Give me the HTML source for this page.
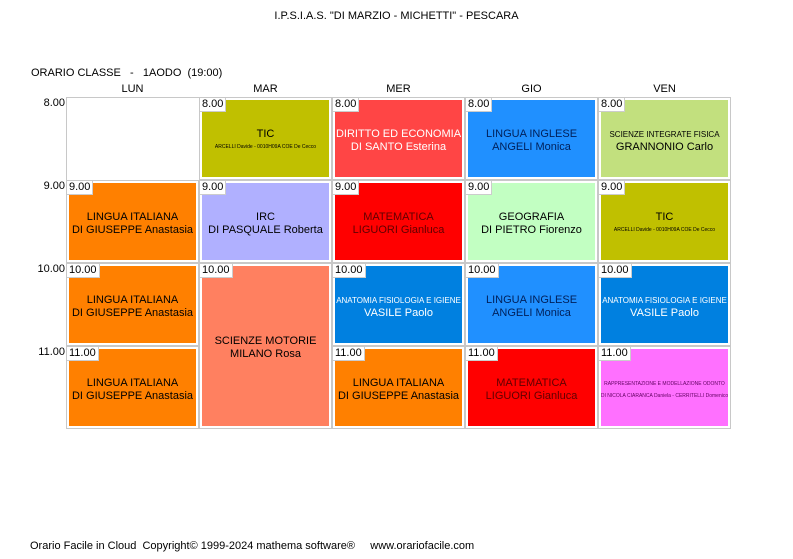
<!DOCTYPE html>
<html><head><meta charset="utf-8">
<style>
body{margin:0;width:793px;height:559px;background:#fff;font-family:"Liberation Sans",sans-serif;position:relative;overflow:hidden;color:#000}
.abs{position:absolute}
.t{font-size:11px;white-space:nowrap}
.cell{position:absolute;box-sizing:border-box;border:1px solid #c8c8c8;background:#fff}
.fill{position:absolute;left:2px;top:2px;right:2px;bottom:2px;display:flex;flex-direction:column;justify-content:center;align-items:center;text-align:center;font-size:11px;line-height:13px;padding-top:4px;box-sizing:border-box;white-space:nowrap;overflow:hidden}
.tm{position:absolute;left:0;top:0;background:#fff;font-size:11px;line-height:13px;padding:0 2px;border-right:1px solid #ccc;border-bottom:1px solid #ccc}
.sm{font-size:5px;line-height:12px}
.md{font-size:8px;line-height:13px}
</style></head><body>
<div class="abs t" style="left:0;width:793px;top:10px;text-align:center">I.P.S.I.A.S. "DI MARZIO - MICHETTI" - PESCARA</div>
<div class="abs t" style="left:31px;top:67px">ORARIO CLASSE &nbsp; - &nbsp; 1AODO &nbsp;(19:00)</div>
<div id="grid"></div>
<div class="abs t" style="left:30px;top:540px">Orario Facile in Cloud &nbsp;Copyright© 1999-2024 mathema software® &nbsp; &nbsp; www.orariofacile.com</div>
<script>
const days=["LUN","MAR","MER","GIO","VEN"];
const hours=["8.00","9.00","10.00","11.00"];
const lessons=[
 [1,0,1,"TIC","ARCELLI Davide - 0010H09A  COE De Cecco","#c0c000","#000","","sm"],
 [2,0,1,"DIRITTO ED ECONOMIA","DI SANTO Esterina","#ff4545","#fff","",""],
 [3,0,1,"LINGUA INGLESE","ANGELI Monica","#2090ff","#00205a","",""],
 [4,0,1,"SCIENZE INTEGRATE FISICA","GRANNONIO Carlo","#c2e07e","#000","md",""],
 [0,1,1,"LINGUA ITALIANA","DI GIUSEPPE Anastasia","#ff8000","#000","",""],
 [1,1,1,"IRC","DI PASQUALE Roberta","#b0b0ff","#000","",""],
 [2,1,1,"MATEMATICA","LIGUORI Gianluca","#ff0000","#600000","",""],
 [3,1,1,"GEOGRAFIA","DI PIETRO Fiorenzo","#c2ffc2","#000","",""],
 [4,1,1,"TIC","ARCELLI Davide - 0010H09A  COE De Cecco","#c0c000","#000","","sm"],
 [0,2,1,"LINGUA ITALIANA","DI GIUSEPPE Anastasia","#ff8000","#000","",""],
 [1,2,2,"SCIENZE MOTORIE","MILANO Rosa","#ff8060","#000","",""],
 [2,2,1,"ANATOMIA FISIOLOGIA E IGIENE","VASILE Paolo","#0080e0","#fff","md",""],
 [3,2,1,"LINGUA INGLESE","ANGELI Monica","#2090ff","#00205a","",""],
 [4,2,1,"ANATOMIA FISIOLOGIA E IGIENE","VASILE Paolo","#0080e0","#fff","md",""],
 [0,3,1,"LINGUA ITALIANA","DI GIUSEPPE Anastasia","#ff8000","#000","",""],
 [2,3,1,"LINGUA ITALIANA","DI GIUSEPPE Anastasia","#ff8000","#000","",""],
 [3,3,1,"MATEMATICA","LIGUORI Gianluca","#ff0000","#600000","",""],
 [4,3,1,"RAPPRESENTAZIONE E MODELLAZIONE ODONTO","DI NICOLA CIARANCA Daniela - CERRITELLI Domenico","#ff70ff","#600060","sm","sm"]
];
const X0=66,Y0=97,CW=133,RH=83;
const g=document.getElementById('grid');
const outer=document.createElement('div');


outer.className='abs';
outer.style.cssText=`left:${X0}px;top:${Y0}px;width:${CW*5}px;height:${RH*4}px;box-sizing:border-box;border:1px solid #c8c8c8`;
g.appendChild(outer);
days.forEach((d,i)=>{const e=document.createElement('div');


e.className='abs t';e.style.cssText=`left:${X0+i*CW}px;width:${CW}px;top:83px;text-align:center`;e.textContent=d;g.appendChild(e);});
hours.forEach((h,i)=>{const e=document.createElement('div');


e.className='abs t';e.style.cssText=`right:${793-X0+1}px;top:${Y0+i*RH}px`;e.textContent=h;g.appendChild(e);});
lessons.forEach(l=>{const [d,r,s,sub,tea,bg,fg,ss,ts]=l;
const c=document.createElement('div');


c.className='cell';c.style.cssText=`left:${X0+d*CW}px;top:${Y0+r*RH}px;width:${CW}px;height:${RH*s}px`;
c.innerHTML=`<div class="fill" style="background:${bg};color:${fg}"><div class="${ss}">${sub}</div><div class="${ts}">${tea}</div></div><div class="tm">${hours[r]}</div>`;
g.appendChild(c);});
</script>
</body></html>
